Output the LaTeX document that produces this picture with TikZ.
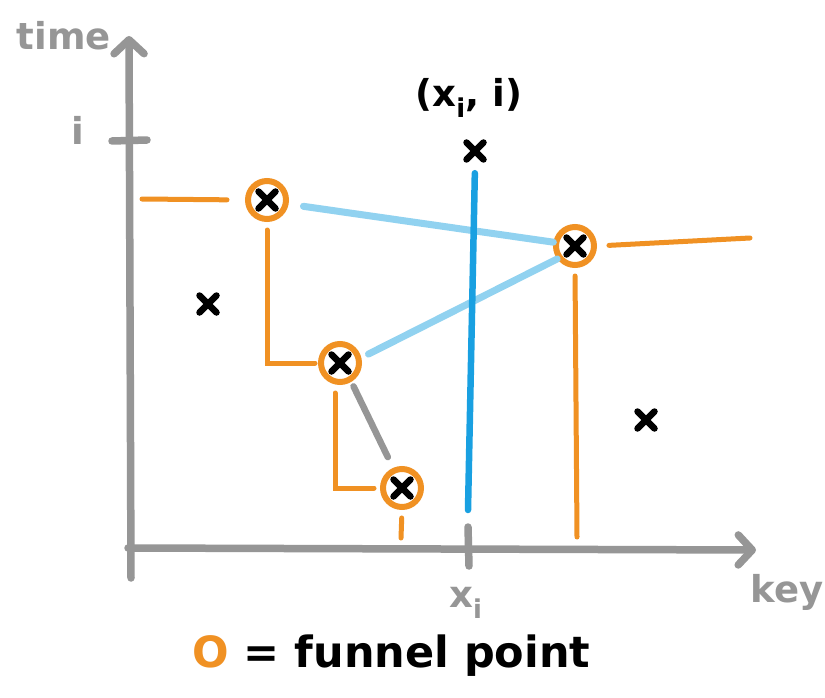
\documentclass[tikz,border=0pt]{standalone}
\usepackage{fontspec}
\setmainfont{DejaVu Sans}
\usepackage{xcolor}
\usepackage{tikz}
\usetikzlibrary{arrows.meta,positioning,calc}
\definecolor{funorange}{RGB}{240,145,35}
\definecolor{axisgray}{RGB}{150,150,150}
\definecolor{keyblue}{RGB}{25,160,225}
\definecolor{linkblue}{RGB}{145,210,240}

\begin{document}
\begin{tikzpicture}[x=1pt, y=-1pt,
  axis/.style={draw=axisgray, line width=7.5, line cap=round},
  axlabel/.style={text=axisgray, font=\bfseries\fontsize{37}{42}\selectfont, inner sep=0},
  xpt/.style={minimum size=28, inner sep=0, path picture={
      \draw[black, line width=6.5, line cap=round]
        ($(path picture bounding box.center)+(-8.5,-8.5)$) -- ($(path picture bounding box.center)+(8.5,8.5)$)
        ($(path picture bounding box.center)+(-8.5,8.5)$) -- ($(path picture bounding box.center)+(8.5,-8.5)$);}},
  funnel/.style={xpt, circle, draw=funorange, line width=6, minimum size=38},
  fline/.style={draw=funorange, line width=5, line cap=round},
  lnk/.style={draw=linkblue, line width=7, line cap=round},
  keyline/.style={draw=keyblue, line width=6.5, line cap=round}
]
\useasboundingbox[fill=white] (0,0) rectangle (825,698);

% axes
\coordinate (ybot) at (131,578);
\coordinate (ytop) at (129,36);
\coordinate (xlft) at (128,548);
\coordinate (xend) at (756,550);
\draw[axis, -{Straight Barb[length=14pt, width=30pt, round]}] (ybot) -- (ytop);
\draw[axis, -{Straight Barb[length=14pt, width=30pt, round]}] (xlft) -- (xend);
\coordinate (ti1) at (112,141);
\coordinate (ti2) at (147,140);
\draw[axis] (ti1) -- (ti2);
\coordinate (tx1) at (468,527);
\coordinate (tx2) at (469,566);
\draw[axis] (tx1) -- (tx2);
\node[axlabel] (tlab) at (64,36) {time};
\node[axlabel] (ilab) at (78,130) {i};
\node[axlabel] (klab) at (787,592) {key};
\node[axlabel] (xlab) at (466,603) {x\textsubscript{i}};

% points
\node[funnel] (fa) at (267,200) {};
\node[funnel] (fb) at (340,363) {};
\node[funnel] (fc) at (402,488) {};
\node[funnel] (fd) at (575,246) {};
\node[xpt] (pa) at (208,304) {};
\node[xpt] (pb) at (646,420) {};
\node[xpt] (pi) at (475,151) {};
\node[font=\bfseries\fontsize{37}{42}\selectfont, inner sep=0] (pilab) at (469,98) {(x\textsubscript{i}, i)};

% funnel steps
\coordinate (fl) at (142,199);
\coordinate (cfoot) at (401,538);
\coordinate (dright) at (750,238);
\coordinate (dfoot) at (577,537);
\draw[fline, shorten >=18] (fl) -- (fa.west);
\draw[fline, shorten <=8, shorten >=3] (fa.south) |- (fb.west);
\draw[fline, shorten <=8, shorten >=6] ([xshift=-5]fb.south) |- (fc.west);
\draw[fline, shorten <=8] (fc.south) -- (cfoot);
\draw[fline, shorten <=12] (fd.east) -- (dright);
\draw[fline, shorten <=8] (fd.south) -- (dfoot);

% links
\draw[lnk, shorten <=15] (fa.-11) -- (fd.170);
\draw[lnk, shorten <=8] (fb.14) -- (fd.216);
\draw[draw=axisgray, line width=6.5, line cap=round, shorten <=5, shorten >=12] (fb.-59) -- (fc.114);
\coordinate (bfoot) at (468,510);
\draw[keyline, shorten <=8] (pi.south) -- (bfoot);

% legend
\node[font=\bfseries\fontsize{43}{50}\selectfont, anchor=west, inner sep=0] (legend) at (192,656) {\textcolor{funorange}{O} = funnel point};
\end{tikzpicture}
\end{document}
